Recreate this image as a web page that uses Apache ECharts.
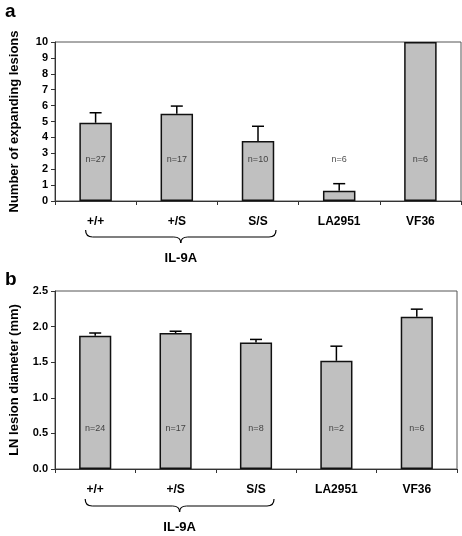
<!DOCTYPE html>
<html><head><meta charset="utf-8">
<script src="https://cdn.jsdelivr.net/npm/echarts@6/dist/echarts.min.js"></script>
<style>html,body{margin:0;padding:0;background:#fff}#c{width:462px;height:536px}</style>
</head><body><div id="c"></div>
<script>
const categories = ['+/+', '+/S', 'S/S', 'LA2951', 'VF36'];
const lesionMeans = [4.92, 5.49, 3.77, 0.65, 10];
const lesionErrTops = [5.55, 5.97, 4.70, 1.09, 10];
const lesionN = ['n=27', 'n=17', 'n=10', 'n=6', 'n=6'];
const diamMeans = [1.87, 1.91, 1.775, 1.52, 2.14];
const diamErrTops = [1.91, 1.935, 1.82, 1.725, 2.245];
const diamN = ['n=24', 'n=17', 'n=8', 'n=2', 'n=6'];
const lesionTicks = [0,1,2,3,4,5,6,7,8,9,10];
const diamTicks = ['0.0','0.5','1.0','1.5','2.0','2.5'];
const groupLabel = 'IL-9A';

const nLevelTop = 2.6, nLevelBottom = 0.565;
const FONT = 'Liberation Sans, Arial, sans-serif';
const chart = echarts.init(document.getElementById('c'), null, {renderer:'canvas'});

function errSeries(xi, yi, means, tops){
  return {
    type:'custom', xAxisIndex:xi, yAxisIndex:yi, z:5,
    data: means.map((m,i)=>[i, m, tops[i]]),
    renderItem(params, api){
      const p0 = api.coord([api.value(0), api.value(1)]);
      const p1 = api.coord([api.value(0), api.value(2)]);
      if (Math.abs(p0[1]-p1[1]) < 0.5) return null;
      const st = {stroke:'#000', lineWidth:1.5};
      return {type:'group', children:[
        {type:'line', shape:{x1:p0[0],y1:p0[1],x2:p1[0],y2:p1[1]}, style:st},
        {type:'line', shape:{x1:p1[0]-6,y1:p1[1],x2:p1[0]+6,y2:p1[1]}, style:st}
      ]};
    }
  };
}
function nSeries(xi, yi, labels, level){
  return {
    type:'scatter', xAxisIndex:xi, yAxisIndex:yi, symbolSize:0, z:6, silent:true,
    data: labels.map((t,i)=>({value:[i, level], label:{formatter:t}})),
    label:{show:true, position:'inside', color:'#222', fontSize:9, fontFamily:FONT}
  };
}
function xAxis(gi){
  return {type:'category', gridIndex:gi, data:categories, boundaryGap:true,
    axisLine:{lineStyle:{color:'#333', width:1}},
    axisTick:{show:true, length:4, lineStyle:{color:'#333'}},
    axisLabel:{color:'#000', fontWeight:'bold', fontSize:12, fontFamily:FONT, margin:15}};
}

const option = {
  animation:false,
  textStyle:{fontFamily:FONT},
  grid:[
    {left:52, right:1, top:42, height:159, show:true, borderColor:'#555', borderWidth:1},
    {left:52, right:5, top:291, height:178, show:true, borderColor:'#555', borderWidth:1}
  ],
  xAxis:[xAxis(0), xAxis(1)],
  yAxis:[
    {type:'value', gridIndex:0, min:0, max:10, interval:1,
      name:'Number of expanding lesions', nameLocation:'middle', nameGap:34,
      nameTextStyle:{fontWeight:'bold', fontSize:13, color:'#000', fontFamily:FONT},
      splitLine:{show:false},
      axisLine:{show:true, lineStyle:{color:'#333'}},
      axisTick:{show:true, length:4, lineStyle:{color:'#333'}},
      axisLabel:{color:'#000', fontWeight:'bold', fontSize:11, margin:7, fontFamily:FONT,
        formatter:(v)=>String(lesionTicks[Math.round(v)] ?? v)}},
    {type:'value', gridIndex:1, min:0, max:2.5, interval:0.5,
      name:'LN lesion diameter (mm)', nameLocation:'middle', nameGap:34,
      nameTextStyle:{fontWeight:'bold', fontSize:13, color:'#000', fontFamily:FONT},
      splitLine:{show:false},
      axisLine:{show:true, lineStyle:{color:'#333'}},
      axisTick:{show:true, length:4, lineStyle:{color:'#333'}},
      axisLabel:{color:'#000', fontWeight:'bold', fontSize:11, margin:7, fontFamily:FONT,
        formatter:(v)=>diamTicks[Math.round(v*2)] ?? v.toFixed(1)}}
  ],
  series:[
    {type:'bar', xAxisIndex:0, yAxisIndex:0, data:lesionMeans, barWidth:'40%',
      itemStyle:{color:'#c0c0c0', borderColor:'#111', borderWidth:1.5}},
    errSeries(0,0,lesionMeans,lesionErrTops),
    nSeries(0,0,lesionN,nLevelTop),
    {type:'bar', xAxisIndex:1, yAxisIndex:1, data:diamMeans, barWidth:'40%',
      itemStyle:{color:'#c0c0c0', borderColor:'#111', borderWidth:1.5}},
    errSeries(1,1,diamMeans,diamErrTops),
    nSeries(1,1,diamN,nLevelBottom)
  ]
};
chart.setOption(option);

function brace(gi, yTop){
  const a = chart.convertToPixel({xAxisIndex:gi}, 0);
  const c = chart.convertToPixel({xAxisIndex:gi}, 2);
  const x0 = a - 10, x1 = c + 18, xm = (x0 + x1) / 2;
  const y0 = yTop, ym = yTop + 7, yt = yTop + 13, r = 7;
  const st = {fill:null, stroke:'#000', lineWidth:1.2};
  return [
    {type:'bezierCurve', shape:{x1:x0,y1:y0,cpx1:x0,cpy1:ym,x2:x0+r,y2:ym}, style:st},
    {type:'line', shape:{x1:x0+r,y1:ym,x2:xm-r,y2:ym}, style:st},
    {type:'bezierCurve', shape:{x1:xm-r,y1:ym,cpx1:xm,cpy1:ym,x2:xm,y2:yt}, style:st},
    {type:'bezierCurve', shape:{x1:xm,y1:yt,cpx1:xm,cpy1:ym,x2:xm+r,y2:ym}, style:st},
    {type:'line', shape:{x1:xm+r,y1:ym,x2:x1-r,y2:ym}, style:st},
    {type:'bezierCurve', shape:{x1:x1-r,y1:ym,cpx1:x1,cpy1:ym,x2:x1,y2:y0}, style:st},
    {type:'text', x:xm, y:yt+9, style:{text:groupLabel, fontWeight:'bold', fontSize:13, fontFamily:FONT, fill:'#000', textAlign:'center', textVerticalAlign:'top'}}
  ];
}
chart.setOption({graphic:[
  {type:'text', left:5, top:2, style:{text:'a', fontWeight:'bold', fontSize:19, fontFamily:FONT, fill:'#000'}},
  {type:'text', left:5, top:270, style:{text:'b', fontWeight:'bold', fontSize:19, fontFamily:FONT, fill:'#000'}},
  ...brace(0, 230), ...brace(1, 499)
]});
</script></body></html>
